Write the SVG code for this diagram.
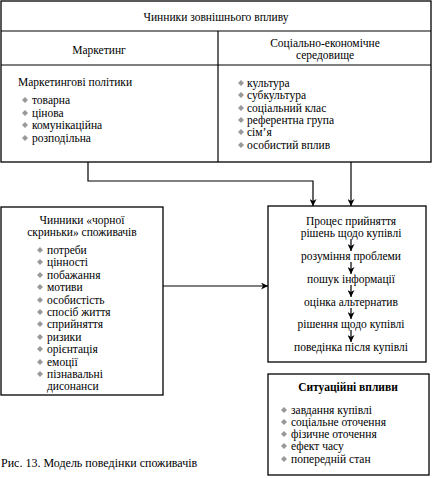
<svg xmlns="http://www.w3.org/2000/svg" width="432" height="478" viewBox="0 0 432 478">
<defs>
<style>
.s{font-family:"Liberation Serif","Times New Roman",serif;font-size:11.5px;fill:#000}
.c{text-anchor:middle}
.b{font-weight:bold}
.box{fill:#fff;stroke:#000;stroke-width:1.3}
.ln{fill:none;stroke:#000;stroke-width:1.2}
.d{fill:#999}
</style>
<marker id="ah" viewBox="0 0 10 10" refX="10" refY="5" markerWidth="7" markerHeight="7" orient="auto" markerUnits="userSpaceOnUse">
<path d="M0,0 L10,5 L0,10 L3,5 Z" fill="#000"/>
</marker>
<path id="dm" d="M0,-3 L3,0 L0,3 L-3,0 Z" class="d"/>
</defs>

<g id="external">
<rect class="box" x="1" y="1" width="430" height="161"/>
<line class="ln" x1="1" y1="31" x2="431" y2="31"/>
<line class="ln" x1="1" y1="65" x2="431" y2="65"/>
<line class="ln" x1="218" y1="31" x2="218" y2="162"/>
<text class="s c" x="216" y="21">Чинники зовнішнього впливу</text>
<text class="s c" x="99" y="54">Маркетинг</text>
<text class="s c" x="325" y="47">Соціально-економічне</text>
<text class="s c" x="325" y="59">середовище</text>
<text class="s" x="18" y="86">Маркетингові політики</text>
<use href="#dm" x="25" y="100"/><text class="s" x="32" y="104">товарна</text>
<use href="#dm" x="25" y="113"/><text class="s" x="32" y="117">цінова</text>
<use href="#dm" x="25" y="125"/><text class="s" x="32" y="129">комунікаційна</text>
<use href="#dm" x="25" y="138"/><text class="s" x="32" y="142">розподільна</text>
<use href="#dm" x="241" y="83"/><text class="s" x="247" y="87">культура</text>
<use href="#dm" x="241" y="95"/><text class="s" x="247" y="99">субкультура</text>
<use href="#dm" x="241" y="108"/><text class="s" x="247" y="112">соціальний клас</text>
<use href="#dm" x="241" y="120"/><text class="s" x="247" y="124">референтна група</text>
<use href="#dm" x="241" y="132"/><text class="s" x="247" y="136">сім’я</text>
<use href="#dm" x="241" y="145"/><text class="s" x="247" y="149">особистий вплив</text>
</g>

<g id="blackbox">
<rect class="box" x="1" y="207" width="162" height="188"/>
<text class="s c" x="82" y="224">Чинники «чорної</text>
<text class="s c" x="82" y="236">скриньки» споживачів</text>
<use href="#dm" x="40" y="250"/><text class="s" x="47" y="254">потреби</text>
<use href="#dm" x="40" y="262"/><text class="s" x="47" y="266">цінності</text>
<use href="#dm" x="40" y="275"/><text class="s" x="47" y="279">побажання</text>
<use href="#dm" x="40" y="287"/><text class="s" x="47" y="291">мотиви</text>
<use href="#dm" x="40" y="300"/><text class="s" x="47" y="304">особистість</text>
<use href="#dm" x="40" y="312"/><text class="s" x="47" y="316">спосіб життя</text>
<use href="#dm" x="40" y="324"/><text class="s" x="47" y="328">сприйняття</text>
<use href="#dm" x="40" y="337"/><text class="s" x="47" y="341">ризики</text>
<use href="#dm" x="40" y="349"/><text class="s" x="47" y="353">орієнтація</text>
<use href="#dm" x="40" y="362"/><text class="s" x="47" y="366">емоції</text>
<use href="#dm" x="40" y="374"/><text class="s" x="47" y="378">пізнавальні</text>
<text class="s" x="47" y="390">дисонанси</text>
</g>

<g id="process">
<rect class="box" x="268" y="206" width="158" height="156"/>
<text class="s c" x="351" y="225">Процес прийняття</text>
<text class="s c" x="351" y="237">рішень щодо купівлі</text>
<text class="s c" x="351" y="260">розуміння проблеми</text>
<text class="s c" x="351" y="283">пошук інформації</text>
<text class="s c" x="351" y="306">оцінка альтернатив</text>
<text class="s c" x="351" y="328">рішення щодо купівлі</text>
<text class="s c" x="351" y="351">поведінка після купівлі</text>
</g>

<g id="situational">
<rect class="box" x="268" y="374" width="161" height="101"/>
<text class="s c b" x="348" y="391">Ситуаційні впливи</text>
<use href="#dm" x="284" y="410"/><text class="s" x="291" y="414">завдання купівлі</text>
<use href="#dm" x="284" y="422"/><text class="s" x="291" y="426">соціальне оточення</text>
<use href="#dm" x="284" y="434"/><text class="s" x="291" y="438">фізичне оточення</text>
<use href="#dm" x="284" y="446"/><text class="s" x="291" y="450">ефект часу</text>
<use href="#dm" x="284" y="459"/><text class="s" x="291" y="463">попередній стан</text>
</g>

<text class="s" x="1" y="467" style="font-size:12px">Рис. 13. Модель поведінки споживачів</text>

<g id="connectors">
<polyline class="ln" points="88,162 88,181 313,181 313,206" marker-end="url(#ah)"/>
<line class="ln" x1="351" y1="162" x2="351" y2="206" marker-end="url(#ah)"/>
<line class="ln" x1="163" y1="286" x2="268" y2="286" marker-end="url(#ah)"/>
<line class="ln" x1="351" y1="239" x2="351" y2="251" marker-end="url(#ah)"/>
<line class="ln" x1="351" y1="262" x2="351" y2="274" marker-end="url(#ah)"/>
<line class="ln" x1="351" y1="285" x2="351" y2="297" marker-end="url(#ah)"/>
<line class="ln" x1="351" y1="308" x2="351" y2="319" marker-end="url(#ah)"/>
<line class="ln" x1="351" y1="330" x2="351" y2="342" marker-end="url(#ah)"/>
</g>
</svg>
